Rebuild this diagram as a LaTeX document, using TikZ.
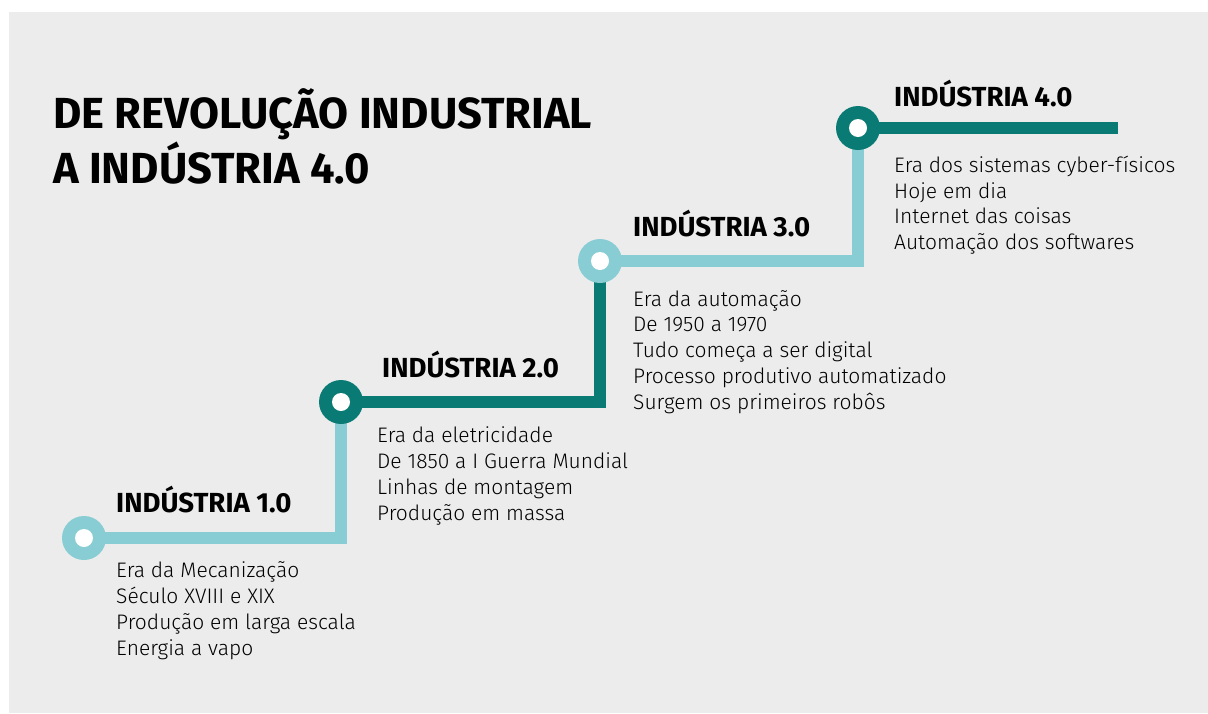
\documentclass[tikz,border=0pt]{standalone}
\usepackage{fontspec}
\setmainfont{Fira Sans}[UprightFont=* Light, BoldFont=* Bold]
\usepackage{xcolor}
\usetikzlibrary{positioning}
\definecolor{tealLight}{HTML}{87CDD3}
\definecolor{tealDark}{HTML}{0A7B74}
\definecolor{bgGray}{HTML}{ECECEC}
\tikzset{
stage/.style={line width=12.5pt, line join=miter},
ring/.style={circle, minimum size=44pt, inner sep=0pt, fill=#1},
hole/.style={circle, minimum size=18pt, inner sep=0pt, fill=white},
heading/.style={anchor=base west, inner sep=0pt, font=\bfseries\fontsize{27.6}{30}\selectfont},
items/.style={anchor=base west, inner sep=0pt, align=left, font=\fontsize{21}{25.7}\selectfont},
}
\begin{document}
\begin{tikzpicture}[x=1pt,y=-1pt]
\useasboundingbox (0,0) rectangle (1208,713);
\fill[bgGray] (9,12) rectangle (1208,713);
% the title (base = last line)
\node (title) [anchor=base west, inner sep=0pt, align=left,
  font=\bfseries\fontsize{43.5}{55}\selectfont] at (53,183)
  {DE REVOLUÇÃO INDUSTRIAL\\A INDÚSTRIA 4.0};
% the stations
\coordinate (c1) at (84,538);
\coordinate (c2) at (341,402);
\coordinate (c3) at (600,261);
\coordinate (c4) at (858,128);
\coordinate (end) at (1118,128);
% the steps
\draw[stage, tealLight] (c1) -| (c2);
\draw[stage, tealDark] (c2) -| (c3);
\draw[stage, tealLight] (c3) -| (c4);
\draw[stage, tealDark] (c4) -- (end);
\foreach \n/\col in {1/tealLight,2/tealDark,3/tealLight,4/tealDark}
{
  \node (ring\n) [ring=\col] at (c\n) {};
  \node (hole\n) [hole] at (c\n) {};
}
% the labels (lists sit on their last line)
\node (head1) [heading] at (116,512) {INDÚSTRIA 1.0};
\node (head2) [heading] at (382,377) {INDÚSTRIA 2.0};
\node (head3) [heading] at (633,236) {INDÚSTRIA 3.0};
\node (head4) [heading] at (894,106) {INDÚSTRIA 4.0};
\node (list1) [items] at (116,655) {Era da Mecanização\\Século XVIII e XIX\\Produção em larga escala\\Energia a vapo};
\node (list2) [items] at (377,520) {Era da eletricidade\\De 1850 a I Guerra Mundial\\Linhas de montagem\\Produção em massa};
\node (list3) [items] at (633,409) {Era da automação\\De 1950 a 1970\\Tudo começa a ser digital\\Processo produtivo automatizado\\Surgem os primeiros robôs};
\node (list4) [items] at (894,249.5) {Era dos sistemas cyber-físicos\\Hoje em dia\\Internet das coisas\\Automação dos softwares};
\end{tikzpicture}
\end{document}
